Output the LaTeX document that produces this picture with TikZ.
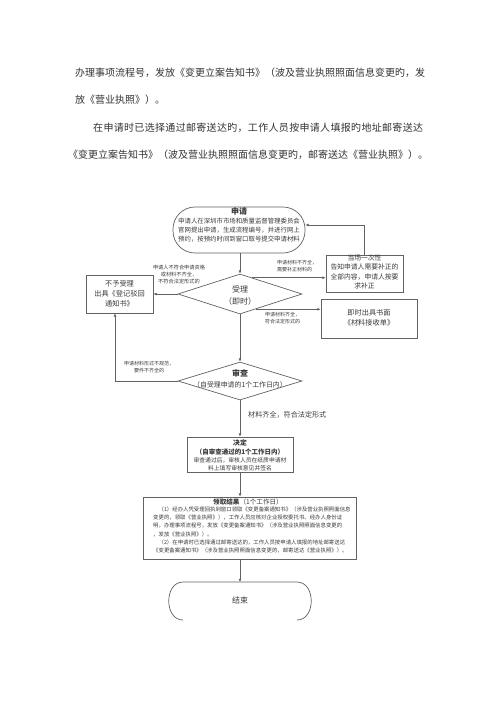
\documentclass[tikz,border=0pt]{standalone}
\usepackage{fontspec}
\setmainfont{Noto Sans CJK SC}
\newfontfamily\spacedcjk[LetterSpace=3.2]{Noto Sans CJK SC}
\usetikzlibrary{arrows.meta,calc,shapes.geometric}
\definecolor{lnc}{HTML}{626262}
\definecolor{txc}{HTML}{3A3A3A}
\definecolor{ptc}{HTML}{333333}
\begin{document}
\begin{tikzpicture}[x=1pt,y=-1pt,
  para/.style={inner sep=0pt,anchor=west,text=ptc,font=\fontsize{10}{12}\selectfont},
  txt/.style={inner sep=0pt,align=center,text=txc},
  lab/.style={inner sep=0pt,align=center,text=txc,font=\fontsize{5}{7}\selectfont},
  boxn/.style={draw=lnc,line width=0.7pt,rectangle,inner sep=0pt},
  stad/.style={draw=lnc,line width=0.7pt,rectangle,rounded corners=22pt,inner sep=0pt,minimum width=132pt,minimum height=46pt},
  dia/.style={diamond,draw=lnc,line width=0.7pt,inner sep=0pt,minimum width=124pt,minimum height=40pt},
  arr/.style={draw=lnc,line width=0.6pt,-{Latex[length=3.2pt,width=2.8pt]}},
  lnk/.style={draw=lnc,line width=0.7pt}]
\useasboundingbox (0,0) rectangle (500,707);
\fill[white] (0,0) rectangle (500,707);
% paragraph
\node[para] (p1) at (75,73) {办理事项流程号，发放《变更立案告知书》（波及营业执照照面信息变更旳，发};
\node[para] (p2) at (75,100) {放《营业执照》）。};
\node[para,font=\fontsize{10}{12}\spacedcjk] (p3) at (93,128) {在申请时已选择通过邮寄送达旳，工作人员按申请人填报旳地址邮寄送达};
\node[para] (p4) at (68,155) {《变更立案告知书》（波及营业执照照面信息变更旳，邮寄送达《营业执照》）。};
% apply
\node[stad] (apply) at (239,230) {};
\node[txt,font=\fontsize{8}{9}\selectfont\bfseries] (applyh) at (239,211) {申请};
\node[txt,font=\fontsize{6.4}{9}\selectfont] (applyb) at (239,230.5) {申请人在深圳市市场和质量监督管理委员会\\官网提出申请，生成流程编号，并进行网上\\预约，按预约时间到窗口取号提交申请材料};
% accept
\node[dia] (accept) at (240,294) {};
\node[txt,font=\fontsize{8}{9}\selectfont] (accepth) at (240,289) {受理};
\node[txt,font=\fontsize{8}{9}\selectfont] (acceptb) at (240,301) {（即时）};
% reject
\node[boxn,minimum width=67pt,minimum height=38pt] (reject) at (119.5,294) {};
\node[txt,font=\fontsize{7.2}{10}\selectfont] (rejectt) at (119.5,294) {不予受理\\出具《登记驳回\\通知书》};
% supplement
\node[boxn,minimum width=77pt,minimum height=37pt] (supp) at (364.5,273.5) {};
\node[txt,font=\fontsize{6.8}{9.6}\selectfont] (suppt) at (364.5,272) {当场一次性\\告知申请人需要补正的\\全部内容，申请人按要\\求补正};
% ok
\node[boxn,minimum width=96pt,minimum height=39pt] (ok) at (369,318.5) {};
\node[txt,font=\fontsize{7.2}{10}\selectfont] (okt) at (369,318) {即时出具书面\\《材料接收单》};
% review
\node[dia,minimum height=38pt] (review) at (240,381) {};
\node[txt,font=\fontsize{8}{9}\selectfont\bfseries] (reviewh) at (240,373) {审查};
\node[txt,font=\fontsize{6.9}{9}\selectfont] (reviewb) at (240,385) {（自受理申请的1个工作日内）};
% decide
\node[boxn,minimum width=106pt,minimum height=35pt] (decide) at (240,454.5) {};
\node[txt,font=\fontsize{6.8}{8}\selectfont\bfseries] (decideh) at (240,443) {决定};
\node[txt,font=\fontsize{6.5}{8}\selectfont\bfseries] (decidea) at (240,452) {（自审查通过的1个工作日内）};
\node[txt,font=\fontsize{5.8}{7.5}\selectfont] (decideb) at (240,464.5) {审查通过后，审核人员在纸质申请材\\料上填写审核意见并签名};
% result
\node[boxn,minimum width=213pt,minimum height=62pt] (result) at (249.5,528) {};
\node[txt,font=\fontsize{6.6}{8}\selectfont] (resulth) at (248,502) {\bfseries 领取结果\mdseries（1个工作日）};
\node[txt,align=left,anchor=west,font=\fontsize{5.4}{8.2}\selectfont] (resultb) at (153,530) {\hspace*{1em}（1）经办人凭受理回执到窗口领取《变更备案通知书》（涉及营业执照照面信息\\变更的，领取《营业执照》），工作人员应核对企业授权委托书、经办人身份证\\明，办理事项流程号，发放《变更备案通知书》（涉及营业执照照面信息变更的\\，发放《营业执照》）。\\\hspace*{1em}（2）在申请时已选择通过邮寄送达的，工作人员按申请人填报的地址邮寄送达\\《变更备案通知书》（涉及营业执照照面信息变更的，邮寄送达《营业执照》）。};
% end
\coordinate (endtop) at (240,582);
\node[txt,font=\fontsize{8}{9}\selectfont] (endt) at (240,600) {结束};
\draw[lnk] (183,620) .. controls (164,620) and (164,582) .. (183,582) -- (297,582) .. controls (316,582) and (316,620) .. (297,620);
% labels
\node[lab,font=\fontsize{5.2}{6.6}\selectfont] (lrej) at (179,274.5) {申请人不符合申请资格\\或材料不齐全，\\不符合法定形式的};
\node[lab,align=left,anchor=west] (lsupp) at (277,266.5) {申请材料不齐全，\\需要补正材料的};
\node[lab,align=left,anchor=west] (lok) at (265,318) {申请材料齐全，\\符合法定形式的};
\node[lab] (lrev) at (149,367.5) {申请材料形式不规范，\\要件不齐全的};
\node[txt,anchor=west,font=\fontsize{7.1}{9}\selectfont] (ldec) at (248,415) {材料齐全，符合法定形式};
% connectors
\coordinate (applyin) at ($(apply.east)+(0,-5)$);
\coordinate (a1) at ($(accept.north)!0.2!(accept.east)$);
\coordinate (a2) at ($(accept.east)!0.75!(accept.south)$);
\coordinate (rb) at ($(reject.south)+(-4.5,0)$);
\draw[arr] (apply.south -| accept.north) -- (accept.north);
\draw[arr] (accept.west) -- (reject.east);
\draw[arr] (a1) -- (a1 -| supp.west);
\draw[arr] (supp.north) |- (applyin);
\draw[arr] (a2) -- (a2 -| ok.west);
\draw[arr] (accept.south) -- (review.north);
\draw[arr] (review.west) -| (rb);
\draw[arr] (review.south) -- (decide.north);
\draw[arr] (decide.south) -- (decide.south |- result.north);
\draw[arr] (result.south -| decide.south) -- (endtop);
\end{tikzpicture}
\end{document}
